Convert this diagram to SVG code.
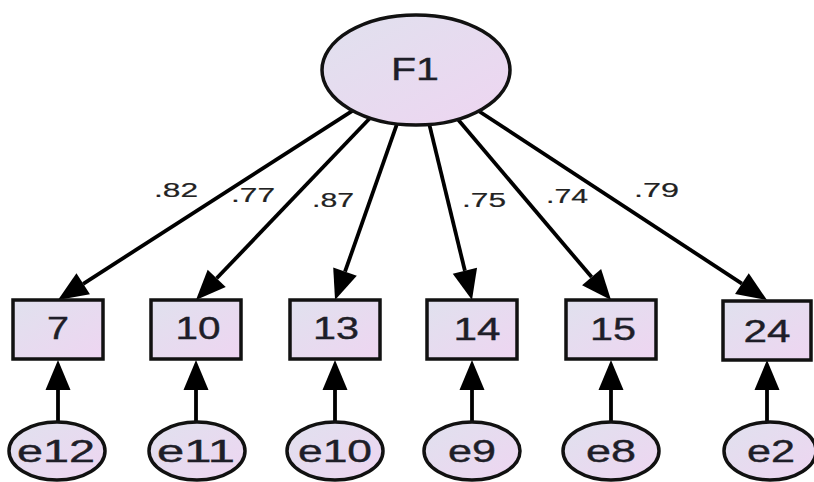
<svg xmlns="http://www.w3.org/2000/svg" width="814" height="482" viewBox="0 0 814 482">
<defs>
<linearGradient id="fill" x1="0" y1="0" x2="1" y2="1">
<stop offset="0" stop-color="#e0e1ee"/>
<stop offset="1" stop-color="#eed5f1"/>
</linearGradient>
<marker id="arr" markerUnits="userSpaceOnUse" markerWidth="32" markerHeight="26" refX="0" refY="0" orient="auto" overflow="visible">
<path d="M30,0 L0,-12.5 L0,12.5 Z" fill="#000"/>
</marker>
</defs>
<style>
.shape{fill:url(#fill);stroke:#111;stroke-width:3.5}
.lbl{font-family:"Liberation Sans",Arial,sans-serif;font-size:31px;fill:#1e1e28;stroke:#1e1e28;stroke-width:0.4;text-anchor:middle}
.w{font-family:"Liberation Sans",Arial,sans-serif;font-size:20px;fill:#222;stroke:#222;stroke-width:0.2}
.con line{stroke:#000;stroke-width:3.8;marker-end:url(#arr)}
</style>
<rect width="814" height="482" fill="#fff"/>
<g id="connectors" class="con">
<line x1="352.7" y1="110.7" x2="83.2" y2="283.8"/>
<line x1="370.1" y1="118.0" x2="216.7" y2="278.3"/>
<line x1="397.0" y1="123.9" x2="345.0" y2="271.7"/>
<line x1="429.3" y1="124.4" x2="464.9" y2="270.8"/>
<line x1="457.8" y1="119.3" x2="591.6" y2="277.1"/>
<line x1="478.6" y1="111.0" x2="741.9" y2="283.6"/>
<line x1="58" y1="422" x2="58" y2="390"/>
<line x1="196" y1="422" x2="196" y2="390"/>
<line x1="335" y1="422" x2="335" y2="390"/>
<line x1="472" y1="422" x2="472" y2="390"/>
<line x1="611" y1="422" x2="611" y2="390"/>
<line x1="767" y1="422" x2="767" y2="390"/>
</g>
<g id="weights">
<text class="w" x="154" y="197" textLength="44" lengthAdjust="spacingAndGlyphs">.82</text>
<text class="w" x="231" y="202" textLength="44" lengthAdjust="spacingAndGlyphs">.77</text>
<text class="w" x="312" y="207" textLength="42" lengthAdjust="spacingAndGlyphs">.87</text>
<text class="w" x="462" y="207" textLength="44" lengthAdjust="spacingAndGlyphs">.75</text>
<text class="w" x="546" y="203" textLength="42" lengthAdjust="spacingAndGlyphs">.74</text>
<text class="w" x="634" y="197" textLength="45" lengthAdjust="spacingAndGlyphs">.79</text>
</g>
<g id="F1">
<ellipse class="shape" cx="416" cy="70" rx="94" ry="55"/>
<text class="lbl" x="415" y="80" textLength="48" lengthAdjust="spacingAndGlyphs">F1</text>
</g>
<g id="v7"><rect class="shape" x="13" y="300" width="90" height="59"/><text class="lbl" x="58" y="339" textLength="22" lengthAdjust="spacingAndGlyphs">7</text></g>
<g id="v10"><rect class="shape" x="151" y="300" width="90" height="59"/><text class="lbl" x="198" y="339" textLength="45" lengthAdjust="spacingAndGlyphs">10</text></g>
<g id="v13"><rect class="shape" x="290" y="300" width="90" height="59"/><text class="lbl" x="336" y="339" textLength="46" lengthAdjust="spacingAndGlyphs">13</text></g>
<g id="v14"><rect class="shape" x="427" y="300" width="90" height="59"/><text class="lbl" x="477" y="340" textLength="47" lengthAdjust="spacingAndGlyphs">14</text></g>
<g id="v15"><rect class="shape" x="566" y="300" width="90" height="59"/><text class="lbl" x="613" y="340" textLength="46" lengthAdjust="spacingAndGlyphs">15</text></g>
<g id="v24"><rect class="shape" x="723" y="301" width="88" height="59"/><text class="lbl" x="767" y="342" textLength="47" lengthAdjust="spacingAndGlyphs">24</text></g>
<g id="e12"><ellipse class="shape" cx="57" cy="451" rx="48" ry="29"/><text class="lbl" x="56" y="462" textLength="78" lengthAdjust="spacingAndGlyphs">e12</text></g>
<g id="e11"><ellipse class="shape" cx="197" cy="451" rx="48" ry="29"/><text class="lbl" x="196" y="462" textLength="78" lengthAdjust="spacingAndGlyphs">e11</text></g>
<g id="e10"><ellipse class="shape" cx="335" cy="451" rx="48" ry="29"/><text class="lbl" x="335" y="462" textLength="74" lengthAdjust="spacingAndGlyphs">e10</text></g>
<g id="e9"><ellipse class="shape" cx="472" cy="451" rx="48" ry="29"/><text class="lbl" x="472" y="462" textLength="48" lengthAdjust="spacingAndGlyphs">e9</text></g>
<g id="e8"><ellipse class="shape" cx="611" cy="451" rx="48" ry="29"/><text class="lbl" x="611" y="462" textLength="50" lengthAdjust="spacingAndGlyphs">e8</text></g>
<g id="e2"><ellipse class="shape" cx="770" cy="451" rx="46" ry="29"/><text class="lbl" x="771" y="462" textLength="48" lengthAdjust="spacingAndGlyphs">e2</text></g>
</svg>
